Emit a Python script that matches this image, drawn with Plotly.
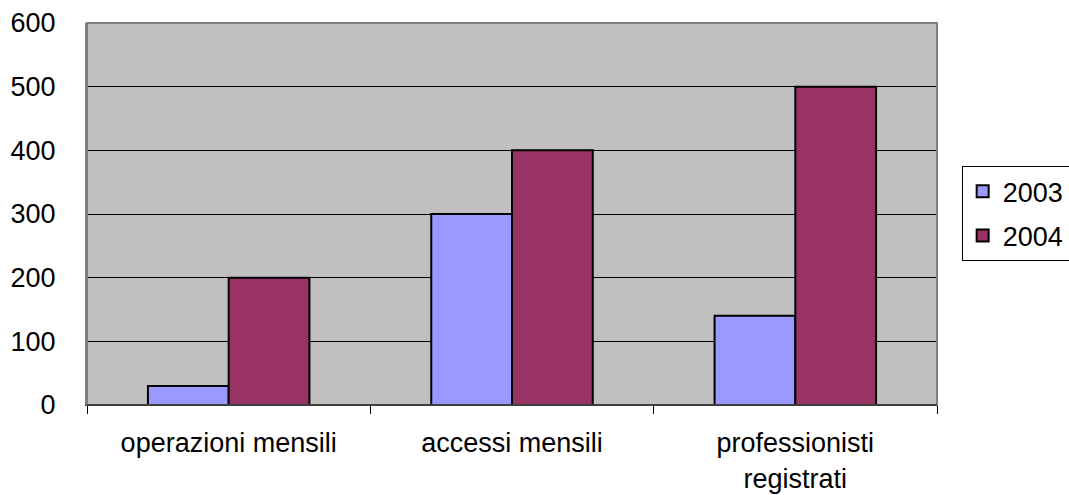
import plotly.graph_objects as go

categories = ["operazioni mensili", "accessi mensili", "professionisti<br>registrati"]
values_2003 = [30, 300, 140]
values_2004 = [200, 400, 500]
y_ticks = [0, 100, 200, 300, 400, 500, 600]

FONT = "Liberation Sans, Arial, sans-serif"
SIZE = 27

fig = go.Figure()
fig.add_trace(go.Bar(
    x=categories, y=values_2003, name="2003", legendgroup="a",
    marker=dict(color="#9999FF", line=dict(color="#000000", width=2)),
))
fig.add_trace(go.Bar(
    x=categories, y=values_2004, name="2004", legendgroup="b",
    marker=dict(color="#993366", line=dict(color="#000000", width=2)),
))

fig.update_layout(
    width=1069, height=495,
    margin=dict(l=87, r=132, t=23, b=90, autoexpand=False),
    paper_bgcolor="#FFFFFF",
    plot_bgcolor="#C0C0C0",
    barmode="group",
    bargap=0.43,
    bargroupgap=0,
    font=dict(family=FONT, size=SIZE, color="#000000"),
    showlegend=True,
    legend=dict(
        x=1.029, y=0.625, xanchor="left", yanchor="top",
        bgcolor="#FFFFFF", bordercolor="#000000", borderwidth=1,
        font=dict(family=FONT, size=SIZE, color="#000000"),
        traceorder="grouped",
        itemwidth=30,
        tracegroupgap=6,
    ),
    xaxis=dict(
        type="category", automargin=False,
        showline=True, linecolor="#000000", linewidth=1,
        ticks="outside", tickson="boundaries", ticklen=8, tickcolor="#000000",
        showgrid=False, mirror=False,
        ticklabelstandoff=14,
        tickfont=dict(family=FONT, size=SIZE, color="#000000"),
    ),
    yaxis=dict(
        range=[0, 600], automargin=False,
        tickvals=y_ticks,
        showgrid=True, gridcolor="#000000", gridwidth=1,
        showline=True, linecolor="#808080", linewidth=2,
        zeroline=False,
        ticks="", ticklabelstandoff=24,
        tickfont=dict(family=FONT, size=SIZE, color="#000000"),
    ),
)

# Gray frame around the plotting area
fig.add_shape(type="rect", xref="paper", yref="paper", x0=0, y0=0, x1=1, y1=1,
              line=dict(color="#808080", width=2), fillcolor="rgba(0,0,0,0)", layer="above")
# Black baseline redrawn on top of the frame
fig.add_shape(type="line", xref="paper", yref="paper", x0=0, y0=0, x1=1, y1=0,
              line=dict(color="#000000", width=1), layer="above")

fig.write_html("out.html")
